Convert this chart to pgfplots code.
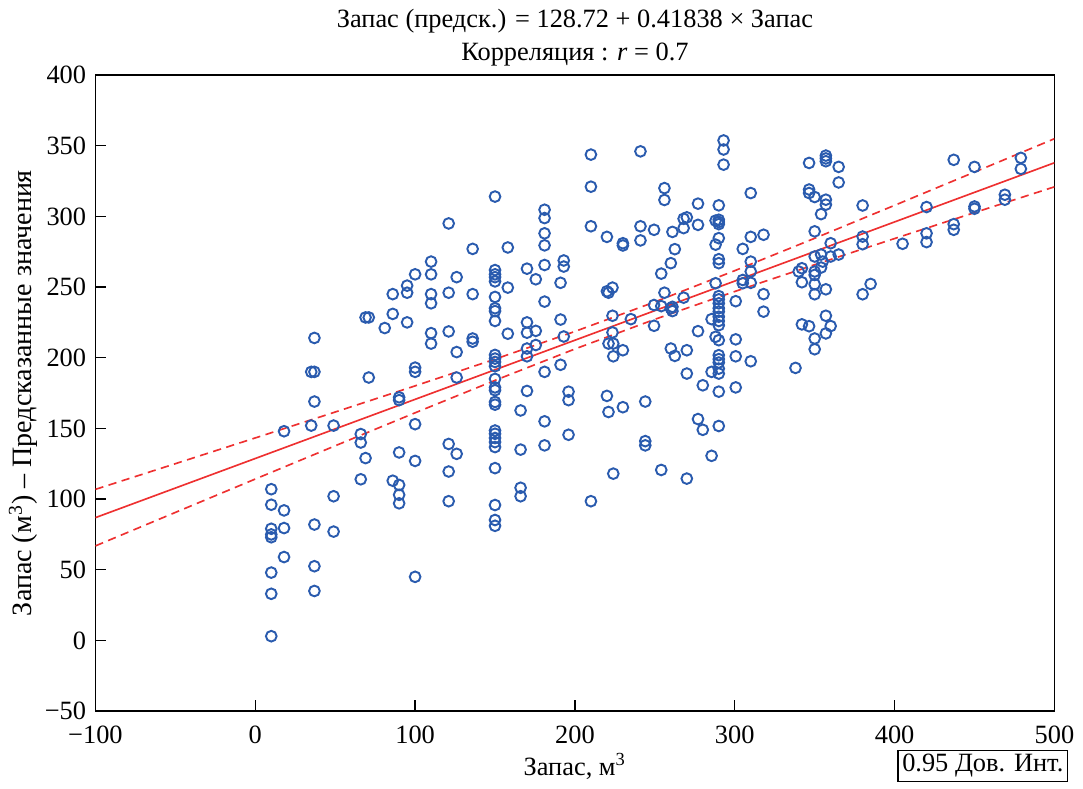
\documentclass[border=0pt]{standalone}
\usepackage{fontspec}
\setmainfont{Liberation Serif}
\usepackage{pgfplots}
\pgfplotsset{compat=1.18}
\definecolor{ptblue}{HTML}{2A5BAE}
\definecolor{fitred}{HTML}{EE3030}

% scatter: stock vs. predicted values
\pgfplotstableread{
x y
10 107
10 96
10 79
10 75
10 73
10 48
10 33
10 3
18 148
18 92
18 79.5
18 59
35 190
35 152
37 214
37 190
37 169
37 82
37 52.5
37 35
49 152
49 102
49 77
66 146
66 140
66 114
69 129
69 228.5
71 228.5
71 186
81 221
86 113
86 245
86 231
90 110
90 103
90 97
90 133
90 172
90 170
95 251
95 246
95 225
100 153
100 127
100 45
100 259
100 193
100 190
110 268
110 259
110 245
110 238.5
110 217.4
110 210
121 139
121 119.5
121 98.5
121 295
121 246
121 218.6
126 132
126 257
126 204
126 186
136 277
136 245
136 213.6
136 211.3
150 314
150 262
150 259
150 257
150 254
150 243
150 235
150 233
150 226
150 202
150 199.4
150 197
150 194
150 185
150 179
150 177
150 168.7
150 166.8
150 148.5
150 146.2
150 143.2
150 140.3
150 136.8
150 121.9
150 95.8
150 85.2
150 81.1
158 278
158 249.6
158 217
166 162.7
166 135
166 108
166 102
170 263
170 225
170 217.7
170 206.5
170 201
170 176.5
175.5 255.5
175.5 219
175.5 209
181 304.7
181 298.8
181 288
181 279.5
181 265.6
181 239.7
181 190
181 155
181 138
191 253
191 227
191 195
193 268.8
193 264.5
193 215
196 176
196 170
196 145.5
210 343.7
210 321
210 293
210 98.5
220 285.5
220 247
220 173
221 161.6
221 246
221 210
223.5 249.6
223.5 229.7
223.5 217.9
224 210
224 201
224 118
230 281
230 279.4
230 165
230 205.3
235 227.3
241 346
241 293
241 283
244 169
244 141
244 138
249.5 290.5
249.5 237.3
249.5 222.6
254 259.5
254 236.5
254 120.6
256 320
256 311.6
256 246
260 266.9
260 235
260 206.5
261 289
261 233
261 236
262.5 276.8
262.5 201.3
268 298.3
268 291.7
268 242.5
270 299.3
270 205.3
270 188.8
270 114.5
277 309
277 294
277 218.8
277 156.6
280 180.5
280 149
285.5 227.3
285.5 130.6
285.5 190
288 297
288 280
288 252.7
288 214.8
290 307.8
290 296
290 297.6
290 294.5
290 284.6
290 269.7
290 266.9
290 243.6
290 241.3
290 238.5
290 235
290 232.6
290 229
290 226
290 223
290 212.4
290 201.8
290 199
290 196.6
290 192.3
290 188.8
290 151.7
290 176
293 353.7
293 347.3
293 336.6
300.6 240
300.6 213
300.6 201
300.6 179
305 277
305 255
305 252.7
310 316.5
310 285.5
310 268
310 261
310 253
310 197.5
318 287
318 245
318 232.6
338 192.8
340 261
342 223.6
342 253.4
342 263.3
346.5 337.8
346.5 319
346.5 316.5
346.5 222.3
350 313.7
350 289.4
350 213.6
350 206
350 244.9
350 261
350 258.6
350 252
350 271.6
354 301.6
354 263.8
354 273
355 268
357 343
357 341
357 339
357 311.8
357 308.3
357 229.7
357 217.2
357 248.4
360 281
360 222.4
360 271.6
365 335
365 324
365 273
380 307.7
380 285.7
380 280.3
380 244.9
385 252.2
405 280.6
420 306.6
420 288
420 281.8
437 340
437 294.5
437 290.5
450 335
450 307
450 305.4
469 315.3
469 311.8
479 341.4
479 333.6
}\stock

\begin{document}
\fontsize{9.6}{11.5}\selectfont
\begin{tikzpicture}
\begin{axis}[
    scale only axis,
    width=349pt, height=231.5pt,
    xmin=-100, xmax=500, ymin=-50, ymax=400,
    xtick={-100,0,100,200,300,400,500},
    xticklabels={−100,0,100,200,300,400,500},
    ytick={-50,0,50,100,150,200,250,300,350,400},
    yticklabels={−50,0,50,100,150,200,250,300,350,400},
    tick pos=left, tick align=inside,
    major tick length=4pt,
    axis line style={line width=0.5pt},
    tick style={line width=0.5pt, black},
    xticklabel style={yshift=-2pt},
    title style={align=center, font=\fontsize{9.6}{12}\selectfont, yshift=-6pt},
    title={Запас (предск.) = 128.72 + 0.41838 × Запас\\Корреляция : \textit{r} = 0.7},
    xlabel={Запас, м\textsuperscript{3}},
    ylabel={Запас (м\textsuperscript{3}) – Предсказанные значения},
    xlabel style={yshift=3pt},
    ylabel style={yshift=-4pt, font=\fontsize{10.2}{12}\selectfont},
    clip=true,
  ]
  \addplot[only marks, mark=o, mark size=1.95pt,
    mark options={ptblue, line width=0.7pt}] table[x=x, y=y] {\stock};
  % regression line
  \addplot[fitred, line width=0.6pt] coordinates {(-100,86.88) (500,337.91)};
  % 0.95 confidence band
  \addplot[fitred, line width=0.6pt, dash pattern=on 3pt off 2pt] coordinates {
    (-100,106.88) (-50,125.04) (0,143.26) (50,161.58) (100,180.09) (150,198.98)
    (200,218.60) (250,239.47) (300,261.59) (350,284.50) (400,307.81) (450,331.32) (500,354.93)};
  \addplot[fitred, line width=0.6pt, dash pattern=on 3pt off 2pt] coordinates {
    (-100,66.88) (-50,90.56) (0,114.18) (50,137.70) (100,161.03) (150,183.98)
    (200,206.20) (250,227.17) (300,246.87) (350,265.80) (400,284.33) (450,302.66) (500,320.89)};
\end{axis}
\node[draw, line width=0.5pt, inner sep=1.5pt, anchor=north east]
  at ([xshift=5pt, yshift=-14pt]current axis.south east) {0.95 Дов. Инт.};
\end{tikzpicture}
\end{document}
